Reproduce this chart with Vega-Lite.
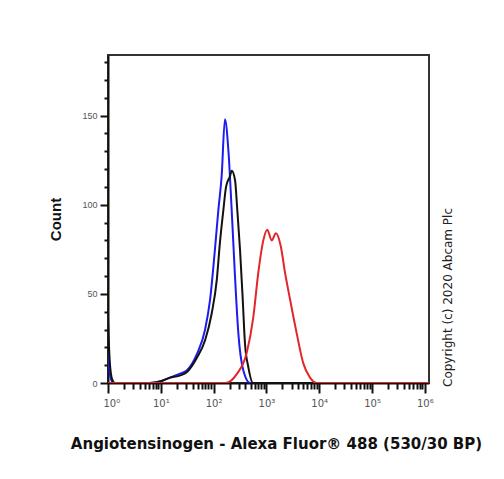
{
  "$schema": "https://vega.github.io/schema/vega-lite/v6.json",
  "width": 321,
  "height": 328,
  "autosize": {"type": "none"},
  "padding": {"left": 108, "top": 55, "right": 75, "bottom": 96},
  "background": "white",
  "title": {"text": "Copyright (c) 2020 Abcam Plc", "orient": "right", "anchor": "end", "align": "left", "angle": 270, "font": "DejaVu Sans", "fontSize": 12, "fontWeight": "normal", "color": "#222", "offset": -51, "dx": 64},
  "config": {"view": {"stroke": "#333", "strokeWidth": 2}},
  "data": {"values": [
    {"s": "blue", "x": 1, "y": 17}, {"s": "blue", "x": 1.1, "y": 4}, {"s": "blue", "x": 1.25, "y": 0}, {"s": "blue", "x": 6.2, "y": 0},
    {"s": "blue", "x": 10, "y": 1}, {"s": "blue", "x": 14.9, "y": 3}, {"s": "blue", "x": 22, "y": 5}, {"s": "blue", "x": 31, "y": 7},
    {"s": "blue", "x": 48, "y": 16}, {"s": "blue", "x": 69, "y": 30}, {"s": "blue", "x": 86, "y": 47}, {"s": "blue", "x": 106, "y": 75},
    {"s": "blue", "x": 123, "y": 97}, {"s": "blue", "x": 142, "y": 116}, {"s": "blue", "x": 164, "y": 148}, {"s": "blue", "x": 190, "y": 131},
    {"s": "blue", "x": 220, "y": 97}, {"s": "blue", "x": 254, "y": 60}, {"s": "blue", "x": 294, "y": 28}, {"s": "blue", "x": 366, "y": 7},
    {"s": "blue", "x": 490, "y": 0}, {"s": "blue", "x": 1200000, "y": 0},
    {"s": "black", "x": 1, "y": 36}, {"s": "black", "x": 1.08, "y": 12}, {"s": "black", "x": 1.2, "y": 2}, {"s": "black", "x": 1.35, "y": 0},
    {"s": "black", "x": 6.2, "y": 0}, {"s": "black", "x": 10, "y": 1}, {"s": "black", "x": 14.9, "y": 3}, {"s": "black", "x": 22, "y": 4},
    {"s": "black", "x": 31, "y": 6}, {"s": "black", "x": 48, "y": 14}, {"s": "black", "x": 69, "y": 24}, {"s": "black", "x": 92, "y": 39},
    {"s": "black", "x": 115, "y": 58}, {"s": "black", "x": 132, "y": 79}, {"s": "black", "x": 153, "y": 97}, {"s": "black", "x": 172, "y": 110},
    {"s": "black", "x": 204, "y": 116}, {"s": "black", "x": 220, "y": 119}, {"s": "black", "x": 254, "y": 114}, {"s": "black", "x": 281, "y": 97},
    {"s": "black", "x": 316, "y": 75}, {"s": "black", "x": 356, "y": 47}, {"s": "black", "x": 393, "y": 22}, {"s": "black", "x": 454, "y": 9},
    {"s": "black", "x": 557, "y": 0}, {"s": "black", "x": 1200000, "y": 0},
    {"s": "red", "x": 1, "y": 0}, {"s": "red", "x": 165, "y": 0}, {"s": "red", "x": 274, "y": 5}, {"s": "red", "x": 424, "y": 17},
    {"s": "red", "x": 565, "y": 37}, {"s": "red", "x": 703, "y": 62}, {"s": "red", "x": 874, "y": 80}, {"s": "red", "x": 1040, "y": 86},
    {"s": "red", "x": 1259, "y": 80}, {"s": "red", "x": 1514, "y": 84}, {"s": "red", "x": 1862, "y": 77}, {"s": "red", "x": 2249, "y": 62},
    {"s": "red", "x": 2800, "y": 47}, {"s": "red", "x": 3741, "y": 28}, {"s": "red", "x": 5000, "y": 11}, {"s": "red", "x": 6698, "y": 3},
    {"s": "red", "x": 8958, "y": 0}, {"s": "red", "x": 1200000, "y": 0}
  ]},
  "mark": {"type": "line", "strokeWidth": 2, "interpolate": "monotone", "clip": true},
  "encoding": {
    "x": {
      "field": "x", "type": "quantitative",
      "scale": {"type": "log", "domain": [1, 1200000], "nice": false},
      "axis": {
        "title": "Angiotensinogen - Alexa Fluor® 488 (530/30 BP)",
        "titleFont": "DejaVu Sans", "titleFontSize": 15, "titleFontWeight": "bold", "titleColor": "#111",
        "titlePadding": 28, "titleX": 168,
        "values": [1,2,3,4,5,6,7,8,9,10,20,30,40,50,60,70,80,90,100,200,300,400,500,600,700,800,900,1000,2000,3000,4000,5000,6000,7000,8000,9000,10000,20000,30000,40000,50000,60000,70000,80000,90000,100000,200000,300000,400000,500000,600000,700000,800000,900000,1000000],
        "labelExpr": "datum.value == 1 ? '10⁰' : datum.value == 10 ? '10¹' : datum.value == 100 ? '10²' : datum.value == 1000 ? '10³' : datum.value == 10000 ? '10⁴' : datum.value == 100000 ? '10⁵' : datum.value == 1000000 ? '10⁶' : ''",
        "labelFlush": true, "labelFlushOffset": 5, "labelOverlap": false,
        "labelFont": "DejaVu Sans", "labelFontSize": 10, "labelColor": "#555", "labelPadding": 5,
        "tickColor": "#111", "tickWidth": 2,
        "tickSize": {"condition": {"test": "indexof([1,10,100,1000,10000,100000,1000000], datum.value) >= 0", "value": 10}, "value": 6},
        "domainColor": "#111", "domainWidth": 2, "grid": false
      }
    },
    "y": {
      "field": "y", "type": "quantitative",
      "scale": {"domain": [0, 184], "nice": false},
      "axis": {
        "title": "Count",
        "titleFont": "Liberation Sans", "titleFontSize": 15, "titleFontWeight": "bold", "titleColor": "#111", "titlePadding": 18,
        "values": [0,10,20,30,40,50,60,70,80,90,100,110,120,130,140,150,160,170,180],
        "labelExpr": "datum.value % 50 == 0 ? datum.label : ''",
        "labelFont": "Liberation Sans", "labelFontSize": 9, "labelColor": "#555", "labelPadding": 3, "labelOverlap": false,
        "tickColor": "#111", "tickWidth": 2,
        "tickSize": {"condition": {"test": "datum.value % 50 == 0", "value": 8}, "value": 4},
        "domainColor": "#111", "domainWidth": 2, "grid": false
      }
    },
    "color": {"field": "s", "type": "nominal", "scale": {"domain": ["blue", "black", "red"], "range": ["#1c1cf0", "#111111", "#e3262b"]}, "legend": null}
  }
}
